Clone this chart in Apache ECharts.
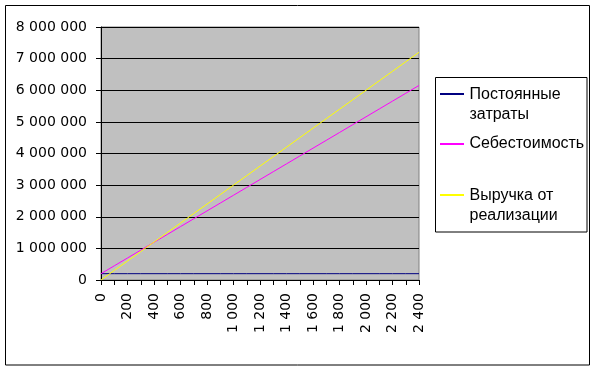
<!DOCTYPE html>
<html>
<head>
<meta charset="utf-8">
<script src="https://cdn.jsdelivr.net/npm/echarts@6/dist/echarts.min.js"></script>
<style>
html,body{margin:0;padding:0;background:#fff;}
#chart{width:596px;height:369px;}
</style>
</head>
<body>
<div id="chart"></div>
<script>
var categories = [0, 100, 200, 300, 400, 500, 600, 700, 800, 900, 1000, 1100, 1200, 1300, 1400, 1500, 1600, 1700, 1800, 1900, 2000, 2100, 2200, 2300, 2400];
var fixedCosts = [200000, 200000, 200000, 200000, 200000, 200000, 200000, 200000, 200000, 200000, 200000, 200000, 200000, 200000, 200000, 200000, 200000, 200000, 200000, 200000, 200000, 200000, 200000, 200000, 200000];
var costPrice = [200000, 448000, 696000, 944000, 1192000, 1440000, 1688000, 1936000, 2184000, 2432000, 2680000, 2928000, 3176000, 3424000, 3672000, 3920000, 4168000, 4416000, 4664000, 4912000, 5160000, 5408000, 5656000, 5904000, 6152000];
var revenue = [0, 300000, 600000, 900000, 1200000, 1500000, 1800000, 2100000, 2400000, 2700000, 3000000, 3300000, 3600000, 3900000, 4200000, 4500000, 4800000, 5100000, 5400000, 5700000, 6000000, 6300000, 6600000, 6900000, 7200000];
var seriesNames = ['Постоянные затраты', 'Себестоимость', 'Выручка от реализации'];
var legendLabels = ['\u00a0\nПостоянные\nзатраты', 'Себестоимость', '\u00a0\nВыручка от\nреализации'];
var seriesColors = ['#000080', '#FF00FF', '#FFFF00'];

function fmt(v) {
  return String(v).replace(/\B(?=(\d{3})+(?!\d))/g, ' ');
}

var chart = echarts.init(document.getElementById('chart'));
var legendTops = [64.5, 133.5, 165.5];
var legendIconY = [94, 144, 195];
var legends = seriesNames.map(function (n, i) {
  return {
    data: [n],
    orient: 'vertical',
    left: 440,
    top: legendTops[i],
    padding: 0,
    itemWidth: 24,
    itemHeight: 14,
    selectedMode: false,
    lineStyle: { color: seriesColors[i], width: 1, opacity: 0 },
    itemStyle: { color: seriesColors[i], opacity: 0 },
    formatter: function () { return legendLabels[i]; },
    textStyle: {
      fontFamily: 'Liberation Sans',
      fontSize: 16,
      lineHeight: 20,
      color: '#000'
    }
  };
});
var legendSamples = seriesColors.map(function (c, i) {
  return {
    type: 'line',
    shape: { x1: 440, y1: legendIconY[i], x2: 464, y2: legendIconY[i] },
    style: { stroke: c, lineWidth: 2 },
    silent: true, z: 100
  };
});
var dataSets = [fixedCosts, costPrice, revenue];
var option = {
  animation: false,
  backgroundColor: '#fff',
  grid: {
    left: 101, top: 27, right: 177, bottom: 89,
    show: true, backgroundColor: '#C0C0C0', borderColor: '#808080', borderWidth: 1,
    containLabel: false, outerBoundsMode: 'none'
  },
  legend: legends,
  xAxis: {
    type: 'category',
    boundaryGap: false,
    data: categories,
    axisLine: { lineStyle: { color: '#000', width: 1 } },
    axisTick: { show: true, interval: 0, length: 5, lineStyle: { color: '#000' } },
    axisLabel: {
      interval: 1, rotate: 90, margin: 13,
      fontFamily: 'DejaVu Sans', fontSize: 14, color: '#000',
      formatter: function (v) { return fmt(v); }
    },
    splitLine: { show: false }
  },
  yAxis: {
    type: 'value',
    min: 0, max: 8000000, interval: 1000000,
    axisLine: { show: true, lineStyle: { color: '#000', width: 1 } },
    axisTick: { show: true, length: 5, lineStyle: { color: '#000' } },
    axisLabel: {
      margin: 14, fontFamily: 'DejaVu Sans', fontSize: 14, color: '#000',
      formatter: function (v) { return fmt(v); }
    },
    splitLine: { show: true, lineStyle: { color: '#000', width: 1 } }
  },
  series: seriesNames.map(function (n, i) {
    return {
      name: n, type: 'line', data: dataSets[i],
      symbol: 'none', showSymbol: false,
      lineStyle: { color: seriesColors[i], width: 1 },
      itemStyle: { color: seriesColors[i] },
      emphasis: { disabled: true }
    };
  }),
  graphic: [
    { type: 'rect', shape: { x: 5.5, y: 5.5, width: 584, height: 359.5 }, style: { fill: null, stroke: '#000', lineWidth: 1 }, silent: true, z: -10 },
    { type: 'rect', shape: { x: 435.5, y: 77.5, width: 151.5, height: 154.5 }, style: { fill: null, stroke: '#000', lineWidth: 1 }, silent: true }
  ].concat(legendSamples)
};
chart.setOption(option);
</script>
</body>
</html>
